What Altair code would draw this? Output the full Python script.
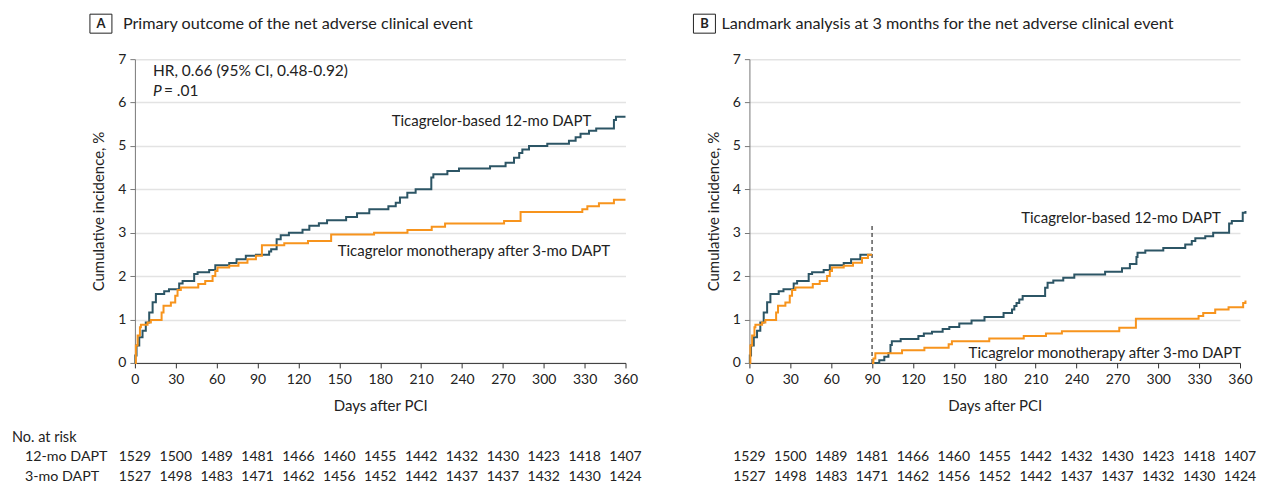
import altair as alt
import pandas as pd

FONT = "Lato"
DARK = "#2c5565"
ORANGE = "#f7941d"
TXT = "#222222"
W, H = 491, 304

# ---------------- data ----------------
# Panel A: 12-mo DAPT (dark)
a12_day = [0, 0.3, 1.2, 3.2, 5.6, 8, 10.5, 13, 15.4, 21.5, 25, 32.5, 35, 43.5, 46, 54.5, 59, 69.2, 74.6, 81.4,
           88.8, 98.5, 100, 104, 107, 113, 123, 128, 135, 141, 155, 163, 172, 186, 191.4, 194.5, 199.9, 206, 217.5, 219,
           229.3, 237.8, 260.6, 272, 278.2, 282, 284.3, 289.2, 302.6, 318.5, 323.4, 327, 333.2, 338.5, 351.5, 353, 360]
a12_val = [0, 0.17, 0.4, 0.59, 0.74, 0.93, 1.16, 1.4, 1.59, 1.65, 1.7, 1.83, 1.89, 2.05, 2.09, 2.14, 2.25, 2.3, 2.39, 2.47,
           2.49, 2.57, 2.62, 2.85, 2.94, 3.0, 3.07, 3.16, 3.22, 3.29, 3.36, 3.45, 3.54, 3.61, 3.69, 3.81, 3.92, 4.0, 4.27, 4.35,
           4.42, 4.48, 4.53, 4.61, 4.73, 4.84, 4.92, 5.0, 5.05, 5.12, 5.2, 5.28, 5.35, 5.4, 5.6, 5.67, 5.67]
# Panel A: 3-mo DAPT then ticagrelor monotherapy (orange)
a3_day = [0, 0.7, 2, 3.7, 4.4, 9.3, 11.7, 19.6, 21, 26.4, 29.6, 31.3, 33.7, 46.5, 51.6, 57, 59, 60.6, 69.2, 76,
          82.6, 88.8, 93.2, 109.6, 127, 144, 175.5, 200, 217.8, 227.6, 270.9, 283, 328.3, 332, 340.5, 351.5, 360]
a3_val = [0, 0.4, 0.63, 0.82, 0.88, 0.93, 0.99, 1.16, 1.32, 1.39, 1.55, 1.68, 1.74, 1.82, 1.89, 2.0, 2.12, 2.2, 2.24, 2.31,
          2.39, 2.47, 2.71, 2.76, 2.81, 2.96, 3.0, 3.06, 3.14, 3.21, 3.27, 3.48, 3.54, 3.61, 3.68, 3.76, 3.76]

# Panel B: before landmark (0-90 days)
b12_pre_day = [0, 0.3, 1.2, 3.2, 5.6, 8, 10.5, 13, 15.4, 21.5, 25, 32.5, 35, 43.5, 46, 54.5, 59, 69.2, 74.6, 81.4, 90]
b12_pre_val = [0, 0.17, 0.4, 0.59, 0.74, 0.93, 1.16, 1.4, 1.59, 1.65, 1.7, 1.83, 1.89, 2.05, 2.09, 2.14, 2.25, 2.3, 2.39, 2.49, 2.49]
b3_pre_day = [0, 0.7, 2, 3.7, 4.4, 9.3, 11.7, 19.6, 21, 26.4, 29.6, 31.3, 33.7, 46.5, 51.6, 57, 59, 60.6, 69.2, 76, 82.6, 87, 90]
b3_pre_val = [0, 0.4, 0.63, 0.82, 0.88, 0.93, 0.99, 1.16, 1.32, 1.39, 1.55, 1.68, 1.74, 1.82, 1.89, 2.0, 2.12, 2.2, 2.24, 2.31, 2.42, 2.49, 2.49]
# Panel B: after landmark (90-360 days)
b12_post_day = [90, 95.3, 99, 102, 103.5, 104.5, 111, 124, 128, 134, 141.8, 146.7, 154, 163, 172.5, 186.5, 192.7, 194.4, 196, 198,
                200.5, 217, 218.8, 223, 230.3, 238.4, 261, 273.4, 279.2, 284, 284.8, 290.5, 303.7, 319.8, 324.6, 327.2, 334.5, 340.3, 352, 354,
                362, 364]
b12_post_val = [0, 0.06, 0.14, 0.23, 0.41, 0.5, 0.55, 0.62, 0.68, 0.72, 0.78, 0.83, 0.91, 0.98, 1.06, 1.15, 1.23, 1.31, 1.38, 1.46,
                1.54, 1.73, 1.85, 1.9, 1.96, 2.04, 2.1, 2.18, 2.28, 2.44, 2.54, 2.59, 2.65, 2.73, 2.81, 2.87, 2.92, 3.0, 3.21, 3.27,
                3.46, 3.5]
b3_post_day = [90, 91, 92.4, 112, 128.4, 146.2, 148.6, 176, 201.3, 217.6, 229.3, 271.4, 283.6, 329.6, 333, 341.8, 351.6, 362.3, 364]
b3_post_val = [0, 0.1, 0.22, 0.29, 0.35, 0.43, 0.5, 0.56, 0.62, 0.68, 0.73, 0.81, 1.02, 1.08, 1.15, 1.23, 1.28, 1.38, 1.44]

landmark_day = [90]
landmark_top = [3.22]

x_ticks = [0, 30, 60, 90, 120, 150, 180, 210, 240, 270, 300, 330, 360]
y_ticks = [0, 1, 2, 3, 4, 5, 6, 7]
risk_12 = [1529, 1500, 1489, 1481, 1466, 1460, 1455, 1442, 1432, 1430, 1423, 1418, 1407]
risk_3 = [1527, 1498, 1483, 1471, 1462, 1456, 1452, 1442, 1437, 1437, 1432, 1430, 1424]

# ---------------- chart construction ----------------
ONE = pd.DataFrame({"k": [0]})

x_enc = alt.X("day:Q", scale=alt.Scale(domain=[0, 360], nice=False, zero=False),
              axis=alt.Axis(values=x_ticks, title="Days after PCI", grid=False, tickSize=5,
                            labelPadding=5, titlePadding=12, domainColor="#333", tickColor="#333",
                            labelFontSize=14, titleFontSize=15, labelColor=TXT, titleColor=TXT,
                            labelFont=FONT, titleFont=FONT, titleFontWeight="normal", labelFlush=False))
y_enc = alt.Y("val:Q", scale=alt.Scale(domain=[0, 7], nice=False),
              axis=alt.Axis(values=y_ticks, title="Cumulative incidence, %", grid=True, gridColor="#e3e3e3",
                            gridWidth=1.5, tickSize=5, labelPadding=4, titlePadding=11, domainColor="#777",
                            tickColor="#777", labelFontSize=14, titleFontSize=15, labelColor=TXT, titleColor=TXT,
                            labelFont=FONT, titleFont=FONT, titleFontWeight="normal"))


def curve(days, vals, color):
    df = pd.DataFrame({"day": days, "val": vals})
    return alt.Chart(df).mark_line(interpolate="step-after", strokeWidth=2, color=color, clip=False).encode(x=x_enc, y=y_enc)


def txt(s, x, y, size=15, align="left", style="normal", weight="normal"):
    return alt.Chart(ONE).mark_text(text=s, align=align, baseline="middle", font=FONT, fontSize=size,
                                    fontStyle=style, fontWeight=weight, color=TXT).encode(
        x=alt.value(x), y=alt.value(y))


def box(x0, x1, y0, y1):
    return alt.Chart(ONE).mark_rect(fill="white", stroke=TXT, strokeWidth=1).encode(
        x=alt.value(x0), x2=alt.value(x1), y=alt.value(y0), y2=alt.value(y1))


risk_df = pd.DataFrame({"day": x_ticks, "n12": risk_12, "n3": risk_3})


def risk_rows():
    r1 = alt.Chart(risk_df).mark_text(font=FONT, fontSize=14, baseline="middle", color=TXT).encode(
        x=x_enc, y=alt.value(398), text=alt.Text("n12:Q", format="d"))
    r2 = alt.Chart(risk_df).mark_text(font=FONT, fontSize=14, baseline="middle", color=TXT).encode(
        x=x_enc, y=alt.value(418), text=alt.Text("n3:Q", format="d"))
    return [r1, r2]


panel_a = alt.layer(
    curve(a12_day, a12_val, DARK),
    curve(a3_day, a3_val, ORANGE),
    txt("HR, 0.66 (95% CI, 0.48-0.92)", 18, 12, size=15.5),
    txt("P", 18, 32, size=15.5, style="italic"),
    txt("= .01", 29, 32, size=15.5),
    txt("Ticagrelor-based 12-mo DAPT", 257, 62),
    txt("Ticagrelor monotherapy after 3-mo DAPT", 203, 192),
    box(-45, -23, -45, -26),
    txt("A", -34, -35.5, size=13, align="center", weight="bold"),
    txt("Primary outcome of the net adverse clinical event", -12, -35, size=16.2),
    txt("No. at risk", -123, 379, size=14.5),
    txt("12-mo DAPT", -110, 398, size=14.3),
    txt("3-mo DAPT", -110, 418, size=14.3),
    *risk_rows(),
).properties(width=W, height=H)

landmark = alt.Chart(pd.DataFrame({"day": landmark_day, "val": [0], "top": landmark_top})).mark_rule(
    strokeDash=[4, 3], color="#333", strokeWidth=1.2).encode(x=x_enc, y=y_enc, y2="top:Q")

panel_b = alt.layer(
    landmark,
    curve(b12_pre_day, b12_pre_val, DARK),
    curve(b3_pre_day, b3_pre_val, ORANGE),
    curve(b12_post_day, b12_post_val, DARK),
    curve(b3_post_day, b3_post_val, ORANGE),
    txt("Ticagrelor-based 12-mo DAPT", 272, 159),
    txt("Ticagrelor monotherapy after 3-mo DAPT", 492, 294, align="right"),
    box(-56, -34, -45, -26),
    txt("B", -45, -35.5, size=13, align="center", weight="bold"),
    txt("Landmark analysis at 3 months for the net adverse clinical event", -28, -35, size=16.2),
    *risk_rows(),
).properties(width=W, height=H)

chart = alt.hconcat(panel_a, panel_b, spacing=124, bounds="flush").properties(
    padding={"left": 4, "top": 5, "right": 2, "bottom": 2}
).configure_view(stroke=None)

chart.save("out.html", embed_options={"renderer": "svg", "actions": False})
